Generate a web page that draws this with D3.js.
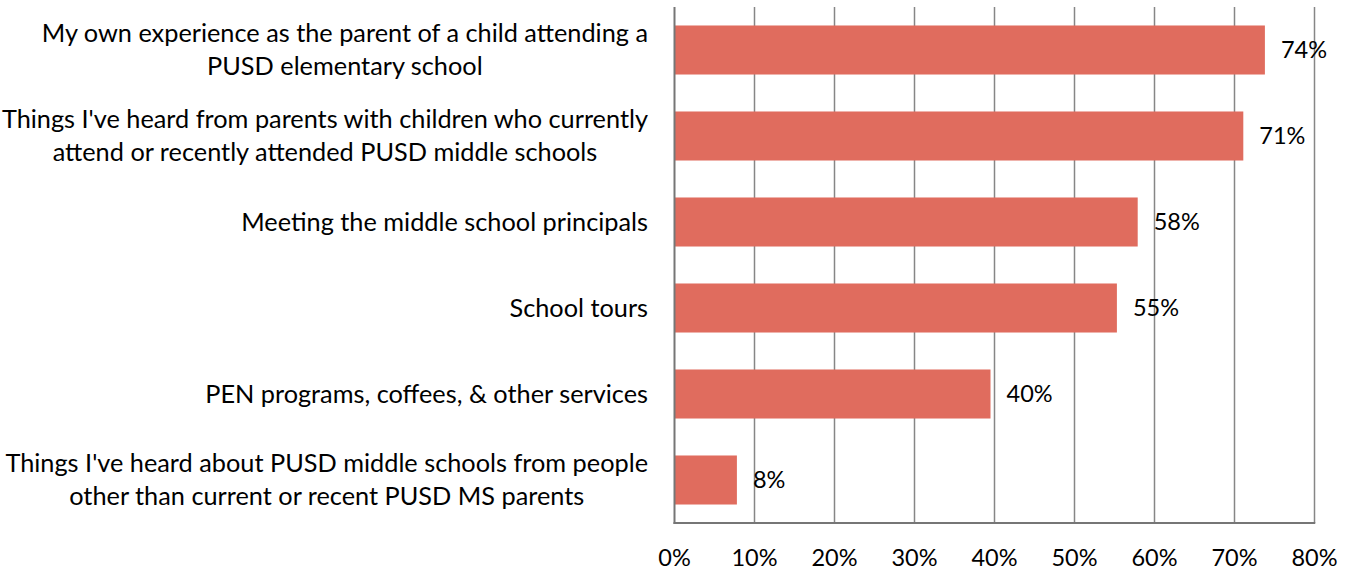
<!DOCTYPE html>
<html><head><meta charset="utf-8">
<script src="https://cdn.jsdelivr.net/npm/d3@7"></script>
<style>body{margin:0;background:#fff}svg{display:block}text{font-family:Lato,"Open Sans",sans-serif;fill:#000}</style>
</head><body>
<svg id="c" width="1350" height="572"></svg>
<script>
const categories = [
  ["My own experience as the parent of a child attending a","PUSD elementary school"],
  ["Things I've heard from parents with children who currently","attend or recently attended PUSD middle schools"],
  ["Meeting the middle school principals"],
  ["School tours"],
  ["PEN programs, coffees, & other services"],
  ["Things I've heard about PUSD middle schools from people","other than current or recent PUSD MS parents"]
];
const values = [73.8, 71.1, 57.9, 55.3, 39.5, 7.8];
const valueLabels = ["74%","71%","58%","55%","40%","8%"];
const tickValues = [0,10,20,30,40,50,60,70,80];
const tickLabels = ["0%","10%","20%","30%","40%","50%","60%","70%","80%"];

(function(){
const svg = d3.select("#c");
const pL = 674.5, pR = 1314.5, pT = 7, pB = 523;
const x = d3.scaleLinear().domain([0,80]).range([pL,pR]);
const y = d3.scaleBand().domain(d3.range(categories.length)).range([pT,pB]).paddingInner(0.43).paddingOuter(0.215);
const fs = 23.5, cfs = 25.3;

svg.append("g").selectAll("line").data(tickValues.slice(1)).join("line")
  .attr("x1",d=>x(d)).attr("x2",d=>x(d)).attr("y1",pT).attr("y2",pB)
  .attr("stroke","#868686").attr("stroke-width",1.5);

svg.append("g").selectAll("rect").data(values).join("rect")
  .attr("x",x(0)).attr("y",(d,i)=>y(i)).attr("width",d=>x(d)-x(0)).attr("height",y.bandwidth())
  .attr("fill","#E06C5E");

svg.append("line").attr("x1",pL).attr("x2",pL).attr("y1",pT).attr("y2",pB+1).attr("stroke","#767676").attr("stroke-width",2);
svg.append("line").attr("x1",pL-1).attr("x2",pR+0.75).attr("y1",pB).attr("y2",pB).attr("stroke","#767676").attr("stroke-width",2);

svg.append("g").selectAll("text").data(tickValues).join("text")
  .attr("x",d=>x(d)).attr("y",566).attr("text-anchor","middle").attr("font-size",fs)
  .text((d,i)=>tickLabels[i]);

svg.append("g").selectAll("text").data(values).join("text")
  .attr("x",d=>x(d)+16).attr("y",(d,i)=>y(i)+y.bandwidth()/2).attr("dy","0.35em")
  .attr("font-size",fs).text((d,i)=>valueLabels[i]);

const lineH = 33, labelRight = 648;
categories.forEach((lines,i)=>{
  const g = svg.append("g");
  const cy = y(i)+y.bandwidth()/2;
  const ts = lines.map((t,j)=>g.append("text").attr("font-size",cfs).attr("text-anchor","middle")
     .attr("y", cy + (j-(lines.length-1)/2)*lineH).attr("dy","0.35em").text(t));
  const w = d3.max(ts, t=>t.node().getComputedTextLength());
  ts.forEach(t=>t.attr("x", labelRight - w/2));
});
})();
</script>
</body></html>
